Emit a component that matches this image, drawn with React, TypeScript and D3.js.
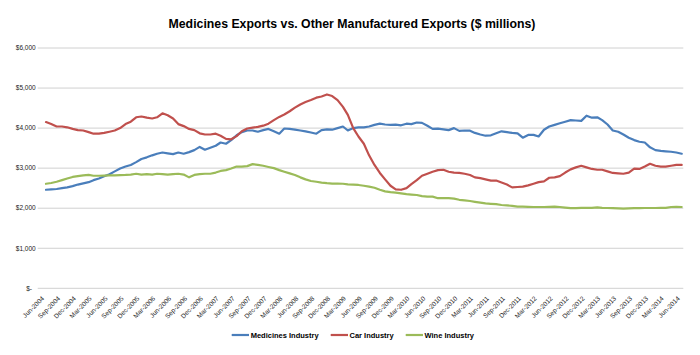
import React, { useEffect } from "react";
import * as d3 from "d3";

const title = "Medicines Exports vs. Other Manufactured Exports ($ millions)";
const seriesNames = ["Medicines Industry", "Car Industry", "Wine Industry"];
const seriesColors = ["#4A7EBB", "#C0504D", "#9BBB59"];

const startMonth = new Date(2004, 5, 1);
const endMonth = new Date(2014, 5, 1);
const categories = d3.timeMonth.range(startMonth, d3.timeMonth.offset(endMonth, 1));

const tickLabels = [
  "Jun-2004", "Sep-2004", "Dec-2004", "Mar-2005", "Jun-2005", "Sep-2005", "Dec-2005",
  "Mar-2006", "Jun-2006", "Sep-2006", "Dec-2006", "Mar-2007", "Jun-2007", "Sep-2007",
  "Dec-2007", "Mar-2008", "Jun-2008", "Sep-2008", "Dec-2008", "Mar-2009", "Jun-2009",
  "Sep-2009", "Dec-2009", "Mar-2010", "Jun-2010", "Sep-2010", "Dec-2010", "Mar-2011",
  "Jun-2011", "Sep-2011", "Dec-2011", "Mar-2012", "Jun-2012", "Sep-2012", "Dec-2012",
  "Mar-2013", "Jun-2013", "Sep-2013", "Dec-2013", "Mar-2014", "Jun-2014",
];

const yTicks = [0, 1000, 2000, 3000, 4000, 5000, 6000];
const yTickLabels = ["$-", "$1,000", "$2,000", "$3,000", "$4,000", "$5,000", "$6,000"];

const medicines = [
  2460, 2470, 2480, 2500, 2520, 2550, 2590, 2620, 2650, 2700, 2740, 2800,
  2850, 2920, 2990, 3040, 3080, 3150, 3230, 3270, 3320, 3360, 3390, 3370,
  3350, 3390, 3360, 3400, 3450, 3530, 3460, 3510, 3560, 3640, 3610, 3700,
  3820, 3900, 3940, 3940, 3910, 3950, 3980, 3920, 3860, 3990, 3980, 3960,
  3940, 3920, 3890, 3860, 3950, 3970, 3960, 4000, 4040, 3940, 4000, 4020,
  4020, 4040, 4080, 4110, 4090, 4080, 4085, 4070, 4110, 4100, 4140, 4130,
  4060, 3980, 3985, 3970, 3950, 4000, 3930, 3940, 3935, 3880, 3840, 3810,
  3820, 3870, 3920, 3900, 3880, 3870, 3760, 3830, 3830, 3790, 3960, 4040,
  4080, 4120, 4160, 4200, 4190, 4180, 4310, 4260, 4270, 4200, 4090, 3940,
  3910, 3840, 3760, 3700, 3660, 3640, 3520, 3450, 3430, 3420, 3410, 3390,
  3360,
];

const car = [
  4150, 4100, 4040, 4040, 4020, 3980, 3950, 3940, 3900, 3860, 3860, 3880,
  3910, 3940, 4000, 4100, 4160, 4270, 4290, 4260, 4240, 4270, 4370, 4320,
  4240, 4100, 4050, 3980, 3950, 3870, 3840, 3840, 3860, 3810, 3730, 3720,
  3800, 3920, 3990, 4010, 4030, 4060, 4110, 4200, 4280, 4340, 4420, 4510,
  4590, 4650, 4700, 4760, 4790, 4840, 4800, 4700, 4530, 4330, 4000, 3790,
  3610, 3320, 3080, 2880, 2720, 2560, 2470, 2460, 2500, 2600, 2700, 2810,
  2860, 2910, 2950, 2960, 2910, 2890, 2880, 2860, 2830, 2770, 2750, 2720,
  2690, 2690, 2640, 2590, 2520, 2530, 2540, 2570, 2610, 2650, 2670, 2760,
  2770, 2800, 2890, 2970, 3020, 3060, 3020, 2980, 2960, 2960, 2920, 2880,
  2870, 2860, 2890, 2990, 2980, 3040, 3110, 3060, 3040, 3040, 3060, 3080,
  3080,
];

const wine = [
  2610, 2630, 2660, 2700, 2740, 2780, 2800, 2820, 2830, 2810, 2810, 2815,
  2820, 2820, 2825, 2830, 2840, 2860, 2840, 2850, 2840, 2860, 2850, 2840,
  2850, 2860, 2840, 2770, 2830, 2850, 2860, 2860, 2890, 2930, 2950, 2990,
  3040, 3040, 3050, 3100, 3080, 3060, 3030, 3000, 2950, 2910, 2870, 2830,
  2770, 2720, 2680, 2660, 2640, 2625, 2615, 2615, 2610, 2595, 2590, 2580,
  2560, 2540, 2510, 2460, 2420, 2400, 2390, 2370, 2350, 2340, 2330, 2300,
  2290, 2290, 2250, 2250, 2250, 2240, 2210, 2195, 2180, 2160, 2140, 2120,
  2110, 2100, 2080, 2070, 2060, 2040, 2040, 2035, 2030, 2030, 2030, 2035,
  2040, 2030, 2015, 2000, 2000, 2010, 2010, 2010, 2020, 2010, 2005, 2000,
  1995, 1990, 1995, 2000, 2000, 2005, 2005, 2005, 2010, 2010, 2030, 2035,
  2030,
];

const seriesData = [medicines, car, wine];

const W = 700;
const H = 355;
const FONT = "'Liberation Sans', Arial, sans-serif";

export default function App() {
  useEffect(() => {
    document.body.style.margin = "0";
  }, []);

  const x = d3
    .scaleTime()
    .domain([categories[0], categories[categories.length - 1]])
    .range([46, 681.7]);
  const y = d3.scaleLinear().domain([0, 6000]).range([288.3, 48]);
  const gridX0 = 37.7;
  const gridX1 = 683.3;

  const line = d3
    .line<number>()
    .x((_, i) => x(categories[i]))
    .y((d) => y(d));

  const tickDates = tickLabels.map((_, k) => categories[k * 3]);

  const legendItems = [
    { x: 231.7, textX: 250.7 },
    { x: 330.7, textX: 349.5 },
    { x: 405.7, textX: 424.5 },
  ];

  return (
    <svg
      width={W}
      height={H}
      style={{ position: "absolute", left: 0, top: 0, background: "#fff" }}
      fontFamily={FONT}
    >
      <rect width={W} height={H} fill="#fff" />
      <text
        x={352}
        y={27.5}
        textAnchor="middle"
        fontSize={12.3}
        fontWeight="bold"
        fill="#000"
      >
        {title}
      </text>
      <g>
        {yTicks.map((t, k) => (
          <g key={t}>
            <line
              x1={gridX0}
              x2={gridX1}
              y1={y(t)}
              y2={y(t)}
              stroke="#d0d0d0"
              strokeWidth={1}
            />
            <text
              x={t === 0 ? 32 : 35.7}
              y={y(t)}
              dy="0.35em"
              textAnchor="end"
              fontSize={6.5}
              fill="#222"
            >
              {yTickLabels[k]}
            </text>
          </g>
        ))}
      </g>
      <g>
        {tickDates.map((d, k) => (
          <text
            key={tickLabels[k]}
            transform={`translate(${x(d) - 1.5},${299}) rotate(-45)`}
            textAnchor="end"
            fontSize={6.5}
            fill="#222"
          >
            {tickLabels[k]}
          </text>
        ))}
      </g>
      <g>
        {seriesData.map((s, k) => (
          <path
            key={seriesNames[k]}
            d={line(s) || ""}
            fill="none"
            stroke={seriesColors[k]}
            strokeWidth={2.2}
            strokeLinejoin="round"
            strokeLinecap="round"
          />
        ))}
      </g>
      <g>
        {legendItems.map((it, k) => (
          <g key={seriesNames[k]}>
            <line
              x1={it.x}
              x2={it.x + 17.3}
              y1={335}
              y2={335}
              stroke={seriesColors[k]}
              strokeWidth={2.2}
            />
            <text
              x={it.textX}
              y={335}
              dy="0.35em"
              fontSize={7.5}
              fontWeight="bold"
              fill="#000"
            >
              {seriesNames[k]}
            </text>
          </g>
        ))}
      </g>
    </svg>
  );
}
